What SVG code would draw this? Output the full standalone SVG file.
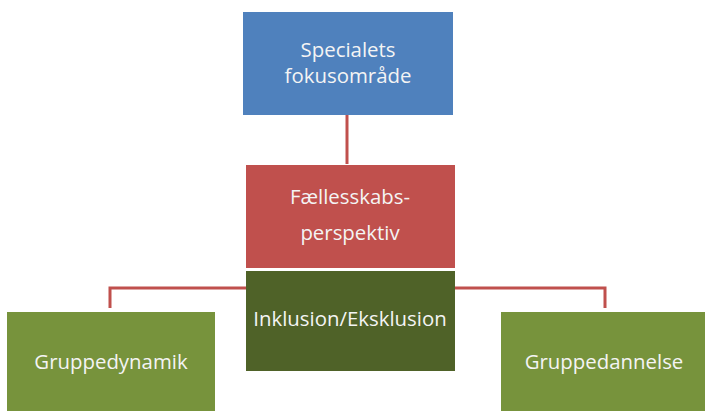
<svg xmlns="http://www.w3.org/2000/svg" width="705" height="411" viewBox="0 0 705 411">
<style>
.t{font-family:"Open Sans","Liberation Sans",sans-serif;font-size:20.4px;fill:#f4f4f4;text-anchor:middle}
.c{stroke:#C0504D;stroke-width:3;fill:none}
</style>
<rect width="705" height="411" fill="#fff"/>
<g id="connectors">
<path class="c" d="M347 115V164"/>
<path class="c" d="M110 308V288H246"/>
<path class="c" d="M455 288H605V308"/>
</g>
<g id="n1"><rect x="243" y="12" width="210" height="103" fill="#4F81BD"/>
<text class="t" x="348" y="57">Specialets</text><text class="t" x="348" y="83">fokusområde</text></g>
<g id="n2"><rect x="246" y="165" width="209" height="103" fill="#C0504D"/>
<text class="t" x="350" y="204">Fællesskabs-</text><text class="t" x="350" y="240">perspektiv</text></g>
<g id="n3"><rect x="246" y="271" width="209" height="100" fill="#4F6228"/>
<text class="t" x="350" y="326">Inklusion/Eksklusion</text></g>
<g id="n4"><rect x="7" y="312" width="208" height="99" fill="#77933C"/>
<text class="t" x="111" y="369">Gruppedynamik</text></g>
<g id="n5"><rect x="501" y="312" width="204" height="99" fill="#77933C"/>
<text class="t" x="604" y="369">Gruppedannelse</text></g>
</svg>
